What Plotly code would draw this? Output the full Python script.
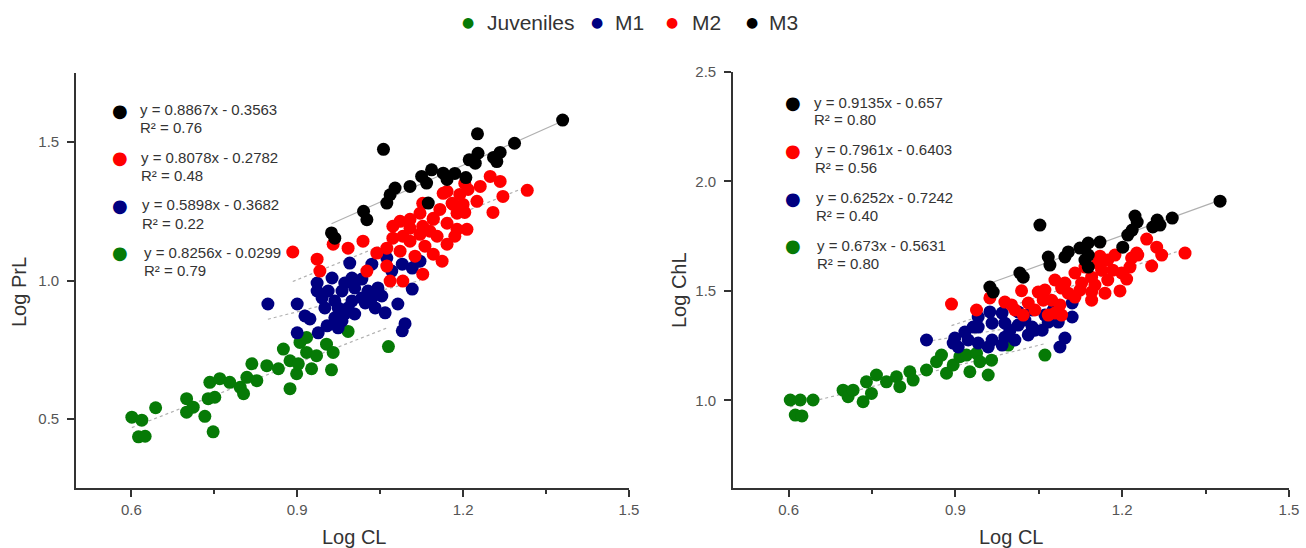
import numpy as np
import plotly.graph_objects as go

# ---------------- data: Log PrL vs Log CL (left panel) ----------------
m3_left_x = [1.380, 1.226, 1.056, 1.293, 1.267, 1.255, 1.261, 1.227, 1.211, 1.222, 1.205, 1.164, 1.143,
             1.125, 1.134, 1.104, 1.077, 1.068, 1.062, 1.137, 1.020, 1.026, 0.962, 0.968, 1.171, 1.185]
m3_left_y = [1.580, 1.530, 1.474, 1.496, 1.463, 1.445, 1.430, 1.460, 1.436, 1.424, 1.372, 1.388, 1.400,
             1.376, 1.352, 1.340, 1.334, 1.310, 1.280, 1.280, 1.250, 1.220, 1.172, 1.153, 1.365, 1.387]

m2_left_x = [0.892, 0.936, 0.941, 0.965, 0.992, 1.019, 1.044, 1.026, 1.062, 1.068, 1.091, 1.127, 1.086,
             1.122, 1.146, 1.162, 1.171, 1.207, 1.182, 1.194, 1.225, 1.254, 1.272, 1.249, 1.267, 1.316,
             1.171, 1.146, 1.104, 1.073, 1.062, 1.231, 1.203, 1.209, 1.164, 1.200, 1.180, 1.189, 1.203,
             1.127, 1.158, 1.122, 1.104, 1.146, 1.073, 1.171, 1.127, 1.189, 1.091, 1.153, 1.104, 1.131,
             1.086, 1.113, 1.140, 1.185]
m2_left_y = [1.103, 1.077, 1.034, 1.131, 1.117, 1.142, 1.099, 1.034, 1.052, 0.998, 0.998, 1.023, 1.214,
             1.167, 1.095, 1.070, 1.131, 1.185, 1.275, 1.311, 1.286, 1.246, 1.304, 1.376, 1.358, 1.326,
             1.322, 1.225, 1.189, 1.153, 1.117, 1.340, 1.351, 1.329, 1.315, 1.275, 1.279, 1.243, 1.246,
             1.279, 1.257, 1.243, 1.221, 1.221, 1.196, 1.207, 1.196, 1.185, 1.160, 1.160, 1.142, 1.124,
             1.106, 1.088, 1.178, 1.160]

m1_left_x = [0.847, 0.900, 0.936, 0.963, 0.986, 0.936, 0.956, 0.981, 1.004, 1.017, 1.035, 0.995, 1.028,
             1.046, 1.053, 1.071, 1.090, 1.108, 1.122, 1.108, 1.082, 0.945, 0.968, 0.999, 1.023, 1.041,
             1.059, 0.950, 0.974, 1.004, 0.914, 0.923, 0.986, 0.968, 0.954, 0.974, 0.900, 0.938, 1.095,
             1.090, 0.981, 0.992, 1.017, 1.035, 0.999, 1.062, 1.117]
m1_left_y = [0.915, 0.915, 0.991, 1.009, 0.991, 0.962, 0.962, 0.962, 0.973, 1.005, 1.059, 1.063, 0.962,
             0.973, 0.944, 1.034, 1.059, 1.045, 1.070, 0.969, 0.915, 0.937, 0.926, 0.926, 0.919, 0.901,
             0.883, 0.901, 0.901, 0.879, 0.872, 0.861, 0.879, 0.865, 0.836, 0.829, 0.811, 0.811, 0.844,
             0.818, 0.854, 0.901, 0.937, 0.937, 1.009, 1.081, 1.070]

juv_left_x = [0.601, 0.619, 0.613, 0.625, 0.644, 0.700, 0.700, 0.712, 0.733, 0.748, 0.739, 0.751, 0.742,
              0.760, 0.778, 0.797, 0.803, 0.818, 0.809, 0.827, 0.845, 0.866, 0.875, 0.887, 0.899, 0.887,
              0.905, 0.917, 0.917, 0.935, 0.926, 0.953, 0.965, 0.962, 0.992, 1.065, 0.902]
juv_left_y = [0.506, 0.495, 0.435, 0.437, 0.540, 0.524, 0.573, 0.542, 0.509, 0.453, 0.573, 0.578, 0.632,
              0.645, 0.632, 0.614, 0.591, 0.699, 0.650, 0.638, 0.692, 0.681, 0.752, 0.710, 0.663, 0.609,
              0.776, 0.794, 0.740, 0.728, 0.681, 0.770, 0.740, 0.677, 0.816, 0.761, 0.699]

# ---------------- data: Log ChL vs Log CL (right panel) ----------------
m3_right_x = [1.376, 1.052, 1.223, 1.227, 1.263, 1.290, 1.255, 1.268, 1.218, 1.210, 1.201, 1.160, 1.139,
              1.124, 1.103, 1.097, 1.139, 1.133, 1.139, 1.067, 1.070, 1.016, 1.022, 0.962, 0.968]
m3_right_y = [1.910, 1.801, 1.842, 1.815, 1.824, 1.833, 1.792, 1.801, 1.778, 1.755, 1.700, 1.723, 1.719,
              1.696, 1.678, 1.655, 1.664, 1.641, 1.609, 1.655, 1.618, 1.582, 1.563, 1.518, 1.495]

m2_right_x = [0.893, 0.938, 0.962, 0.989, 1.019, 1.022, 1.058, 1.067, 1.091, 1.043, 1.079, 1.091, 1.115,
              1.127, 1.145, 1.163, 1.174, 1.187, 1.199, 1.217, 1.228, 1.244, 1.262, 1.271, 1.313, 1.253,
              1.226, 1.208, 1.196, 1.115, 1.145, 1.169, 1.174, 1.103, 1.073, 1.031, 1.007, 1.001, 1.049,
              1.145, 1.133, 1.156, 1.183, 1.214, 1.079, 1.160, 1.088, 1.061, 1.124, 1.097, 1.151]
m2_right_y = [1.440, 1.413, 1.468, 1.449, 1.501, 1.390, 1.458, 1.390, 1.390, 1.413, 1.550, 1.513, 1.582,
              1.536, 1.563, 1.595, 1.641, 1.664, 1.582, 1.650, 1.664, 1.737, 1.700, 1.664, 1.673, 1.614,
              1.673, 1.554, 1.500, 1.472, 1.458, 1.490, 1.550, 1.490, 1.458, 1.445, 1.413, 1.436, 1.495,
              1.495, 1.609, 1.627, 1.595, 1.609, 1.399, 1.659, 1.436, 1.504, 1.504, 1.536, 1.527]

m1_right_x = [0.848, 0.899, 0.923, 0.941, 0.966, 0.989, 1.007, 1.031, 1.043, 1.056, 1.038, 1.013, 0.989,
              0.966, 0.941, 0.962, 0.984, 1.013, 1.038, 1.079, 1.110, 1.110, 1.085, 1.067, 1.097, 1.088,
              0.905, 0.984, 0.959, 0.941, 1.025, 1.076, 0.896, 0.932, 1.061, 0.998, 0.917]
m1_right_y = [1.276, 1.285, 1.276, 1.262, 1.276, 1.289, 1.276, 1.299, 1.321, 1.321, 1.335, 1.344, 1.353,
              1.353, 1.335, 1.404, 1.399, 1.404, 1.413, 1.422, 1.445, 1.381, 1.358, 1.358, 1.285, 1.244,
              1.244, 1.253, 1.244, 1.381, 1.367, 1.413, 1.262, 1.335, 1.390, 1.321, 1.312]

juv_right_x = [0.603, 0.621, 0.644, 0.612, 0.624, 0.698, 0.707, 0.716, 0.734, 0.740, 0.758, 0.749, 0.776,
               0.794, 0.800, 0.818, 0.824, 0.848, 0.866, 0.875, 0.884, 0.896, 0.908, 0.926, 0.920, 0.938,
               0.944, 0.965, 0.959, 0.995, 1.061]
juv_right_y = [1.002, 1.002, 1.002, 0.933, 0.929, 1.047, 1.017, 1.047, 0.994, 1.085, 1.116, 1.032, 1.085,
               1.108, 1.063, 1.131, 1.093, 1.139, 1.177, 1.207, 1.124, 1.162, 1.200, 1.131, 1.207, 1.215,
               1.177, 1.184, 1.116, 1.253, 1.207]

group_names = ["Juveniles", "M1", "M2", "M3"]
group_colors = ["#067a06", "#000080", "#ff0000", "#000000"]

left_eqs = ["y = 0.8867x - 0.3563", "y = 0.8078x - 0.2782", "y = 0.5898x - 0.3682", "y = 0.8256x - 0.0299"]
left_r2 = ["R² = 0.76", "R² = 0.48", "R² = 0.22", "R² = 0.79"]
right_eqs = ["y = 0.9135x - 0.657", "y = 0.7961x - 0.6403", "y = 0.6252x - 0.7242", "y = 0.673x - 0.5631"]
right_r2 = ["R² = 0.80", "R² = 0.56", "R² = 0.40", "R² = 0.80"]
eq_colors = ["#000000", "#ff0000", "#000080", "#067a06"]

x_ticks = [0.6, 0.9, 1.2, 1.5]
x_minor_ticks = [0.75, 1.05, 1.35]
left_y_ticks = [0.5, 1.0, 1.5]
right_y_ticks = [1.0, 1.5, 2.0, 2.5]

# ---------------- figure ----------------
W, H = 1306, 548
FONT = "Arial, Liberation Sans, sans-serif"
TEXT = "#333333"
fig = go.Figure()

left_data = [(juv_left_x, juv_left_y), (m1_left_x, m1_left_y), (m2_left_x, m2_left_y), (m3_left_x, m3_left_y)]
right_data = [(juv_right_x, juv_right_y), (m1_right_x, m1_right_y), (m2_right_x, m2_right_y), (m3_right_x, m3_right_y)]

for panel, (data, xa, ya) in enumerate([(left_data, "x", "y"), (right_data, "x2", "y2")]):
    # least-squares trend lines (drawn behind the points)
    for gi, (gx, gy) in enumerate(data):
        gx = np.array(gx); gy = np.array(gy)
        slope, icpt = np.polyfit(gx, gy, 1)
        lx = np.array([gx.min(), gx.max()])
        fig.add_trace(go.Scatter(
            x=lx, y=slope * lx + icpt, mode="lines", xaxis=xa, yaxis=ya,
            line=dict(color="#b0b0b0", width=1.2, dash="solid" if gi == 3 else "dot"),
            showlegend=False, hoverinfo="skip"))
    for gi, (gx, gy) in enumerate(data):
        fig.add_trace(go.Scatter(
            x=gx, y=gy, mode="markers", xaxis=xa, yaxis=ya, name=group_names[gi],
            legendgroup=group_names[gi], showlegend=False,
            marker=dict(color=group_colors[gi], size=13, line=dict(width=0), opacity=1)))


def px_x(p):
    return p / W


def px_y(p):
    return 1 - p / H


axis_common = dict(
    showgrid=False, zeroline=False, showline=True, linecolor="#333333", linewidth=1.6,
    ticks="outside", ticklen=7, tickwidth=1.6, tickcolor="#333333",
    tickfont=dict(family=FONT, size=15, color="#555555"), mirror=False, automargin=False,
)
minor_x = dict(ticks="outside", tickvals=x_minor_ticks, ticklen=4, tickwidth=1.6, tickcolor="#333333")

fig.update_layout(
    width=W, height=H,
    margin=dict(l=0, r=0, t=0, b=0, autoexpand=False),
    paper_bgcolor="white", plot_bgcolor="white",
    showlegend=False,
    xaxis=dict(domain=[px_x(76), px_x(629)], range=[0.5, 1.5], tickvals=x_ticks,
               ticktext=[f"{v:.1f}" for v in x_ticks], anchor="y", minor=minor_x,
               ticklabelstandoff=0, **axis_common),
    yaxis=dict(domain=[px_y(488), px_y(73)], range=[0.25, 1.75], tickvals=left_y_ticks,
               ticktext=[f"{v:.1f}" for v in left_y_ticks], anchor="x", ticklabelstandoff=5,
               **axis_common),
    xaxis2=dict(domain=[px_x(733), px_x(1289)], range=[0.5, 1.5], tickvals=x_ticks,
                ticktext=[f"{v:.1f}" for v in x_ticks], anchor="y2", minor=minor_x,
                ticklabelstandoff=0, **axis_common),
    yaxis2=dict(domain=[px_y(488), px_y(72)], range=[0.6, 2.5], tickvals=right_y_ticks,
                ticktext=[f"{v:.1f}" for v in right_y_ticks], anchor="x2", ticklabelstandoff=5,
                **axis_common),
)

ann = []
# legend (top centre): coloured dot + group name
legend_dot_x = [468, 597, 672, 752]
legend_txt_x = [485, 613, 690, 767]
for i, name in enumerate(group_names):
    ann.append(dict(x=px_x(legend_dot_x[i]), y=px_y(22), xref="paper", yref="paper", text="●",
                    showarrow=False, xanchor="center", yanchor="middle",
                    font=dict(family="DejaVu Sans", size=14, color=group_colors[i])))
    ann.append(dict(x=px_x(legend_txt_x[i]), y=px_y(22), xref="paper", yref="paper", text=name,
                    showarrow=False, xanchor="left", yanchor="middle",
                    font=dict(family=FONT, size=21, color=TEXT)))

# axis titles
for (cx, cy, txt, ang) in [(354, 537, "Log CL", 0), (1011, 537, "Log CL", 0),
                           (19, 292, "Log PrL", -90), (679, 290, "Log ChL", -90)]:
    ann.append(dict(x=px_x(cx), y=px_y(cy), xref="paper", yref="paper", text=txt, showarrow=False,
                    textangle=ang, xanchor="center", yanchor="middle",
                    font=dict(family=FONT, size=20, color=TEXT)))

# regression equation boxes
left_dot_y = [110, 158, 205.5, 252.5]
left_eq_y = [109.3, 157.7, 205, 252.7]
left_r2_y = [128, 175.5, 223, 270.7]
left_txt_x = [138, 139, 140, 141.5]
right_dot_y = [102.7, 150.7, 198.3, 246]
right_eq_y = [102.5, 150, 197.5, 245]
right_r2_y = [120, 167.7, 215.7, 263.3]
right_txt_x = [811.5, 813, 814, 815]
for dot_x, dys, eys, rys, txs, eqs, r2s in [
        (120, left_dot_y, left_eq_y, left_r2_y, left_txt_x, left_eqs, left_r2),
        (793, right_dot_y, right_eq_y, right_r2_y, right_txt_x, right_eqs, right_r2)]:
    for i in range(4):
        ann.append(dict(x=px_x(dot_x), y=px_y(dys[i]), xref="paper", yref="paper", text="●",
                        showarrow=False, xanchor="center", yanchor="middle",
                        font=dict(family="DejaVu Sans", size=18, color=eq_colors[i])))
        ann.append(dict(x=px_x(txs[i]), y=px_y(eys[i]), xref="paper", yref="paper", text=eqs[i],
                        showarrow=False, xanchor="left", yanchor="middle",
                        font=dict(family=FONT, size=15, color=TEXT)))
        ann.append(dict(x=px_x(txs[i]), y=px_y(rys[i]), xref="paper", yref="paper", text=r2s[i],
                        showarrow=False, xanchor="left", yanchor="middle",
                        font=dict(family=FONT, size=15, color=TEXT)))
fig.update_layout(annotations=ann)

fig.write_html("out.html", config={"displayModeBar": False},
               post_script="document.body.style.margin='0px'; document.body.style.overflow='hidden';")
